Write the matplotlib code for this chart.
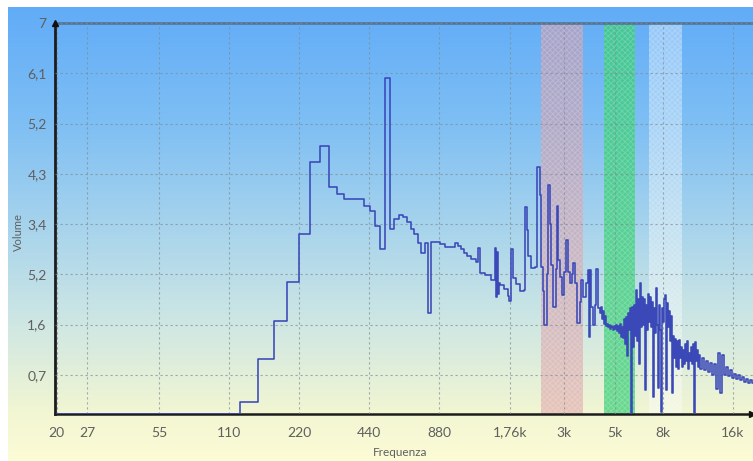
import numpy as np
import matplotlib
matplotlib.use('Agg')
import matplotlib.pyplot as plt
from matplotlib.colors import LinearSegmentedColormap

plt.rcParams['font.family'] = ['Lato', 'DejaVu Sans']
plt.rcParams['hatch.linewidth'] = 0.6

# ---- spectrum data (step edges in Hz, level) ----
low_freq = [20, 122.5, 147, 171.5, 196, 220.5, 245, 269.5, 294, 318.5, 343, 416.5, 441,
            465.5, 490, 514.5, 539, 563.5, 588, 612.5, 637, 661.5, 686, 710.5, 735, 759.5,
            784, 808.5, 882, 931, 1029, 1053.5]
low_level = [0.0, 0.22, 0.98, 1.67, 2.37, 3.23, 4.51, 4.79, 4.07, 3.93, 3.85, 3.73, 3.64,
             3.36, 2.95, 6.01, 3.32, 3.49, 3.56, 3.52, 3.43, 3.32, 3.23, 3.06, 2.89, 3.06,
             1.80, 3.08, 3.04, 2.99, 3.06, 3.00]

mid_freq = [1085, 1118, 1151, 1197, 1257, 1289, 1308, 1374, 1458, 1524, 1539, 1554, 1570,
            1585, 1601, 1657, 1724, 1758, 1793, 1821, 1866, 1941, 2019, 2049, 2100, 2121,
            2184, 2272, 2306, 2375, 2411, 2447, 2483, 2546, 2572, 2622, 2647, 2713, 2781,
            2809, 2850, 2907, 2951, 3010, 3071, 3145, 3208, 3272, 3304, 3370, 3438, 3523,
            3558, 3630, 3758, 3814, 3871, 3907, 3946, 4024, 4104, 4145, 4227]
mid_level = [2.95, 2.88, 2.82, 2.77, 2.72, 2.97, 2.52, 2.48, 2.40, 2.97, 2.10, 2.90, 2.15,
             2.35, 2.31, 2.24, 2.12, 2.02, 2.95, 2.43, 2.33, 2.20, 2.22, 3.70, 3.30, 2.82,
             2.62, 2.64, 4.42, 3.92, 2.64, 2.20, 1.59, 2.50, 4.10, 3.40, 2.67, 1.92, 2.60,
             3.72, 2.75, 2.45, 2.13, 2.55, 3.11, 2.55, 2.35, 2.50, 2.70, 2.35, 1.63, 2.00,
             2.40, 2.10, 2.35, 2.58, 1.38, 2.57, 1.92, 1.60, 1.95, 2.59, 1.89]

high_freq = [4312, 4355, 4398, 4441, 4485, 4530, 4574, 4620, 4666, 4712, 4760, 4807, 4855,
             4903, 4951, 5000, 5049, 5100, 5150, 5201, 5253, 5305, 5358, 5411, 5464, 5518,
             5572, 5628, 5684, 5740, 5797, 5854, 5913, 5971, 6030, 6090, 6149, 6211, 6272,
             6334, 6398, 6461, 6526, 6590, 6655, 6721, 6787, 6855, 6923, 6991, 7060, 7130,
             7201, 7272, 7344, 7417, 7489, 7564, 7639, 7715, 7792, 7869, 7948, 8026, 8105,
             8186, 8266, 8348, 8431, 8514, 8599, 8684, 8771, 8857, 8945, 9033, 9122, 9213,
             9304, 9396, 9490, 9584, 9680, 9775, 9871, 9969, 10067, 10168, 10268, 10370,
             10474, 10578, 10683, 10789, 10895, 11003, 11111, 11221, 11332, 11445, 11560,
             11791, 12025, 12263, 12508, 12757, 13012, 13270, 13533, 13803, 14079, 14361,
             14645, 14935, 15234, 15537, 15848, 16162, 16483, 16812, 17147, 17490, 17836,
             18190, 18553, 18924, 19300]
high_level = [1.80, 1.92, 1.70, 1.85, 1.62, 1.75, 1.58, 1.62, 1.55, 1.60, 1.52, 1.58, 1.55,
              1.50, 1.57, 1.53, 1.60, 1.48, 1.58, 1.45, 1.62, 1.38, 1.55, 1.36, 1.70, 1.25,
              1.74, 1.03, 1.80, 1.50, 1.90, 0.00, 1.92, 1.20, 1.95, 1.40, 2.22, 1.30, 2.05,
              0.90, 2.35, 1.55, 2.10, 1.60, 2.05, 0.43, 1.95, 1.50, 2.15, 1.65, 2.10, 1.55,
              2.01, 0.30, 1.90, 1.45, 2.25, 1.60, 0.47, 1.95, 1.50, 0.04, 1.90, 1.65, 2.05,
              2.13, 0.43, 1.99, 1.55, 1.85, 1.30, 1.75, 0.37, 1.40, 1.00, 1.35, 0.85, 1.30,
              0.80, 1.33, 1.00, 1.20, 0.85, 1.15, 0.90, 1.25, 0.95, 1.30, 0.80, 1.10,
              0.95, 1.20, 0.90, 1.25, 0.02, 1.29, 0.95, 1.15, 0.85, 1.05, 0.80,
              1.00, 0.78, 0.95, 0.75, 0.92, 0.70, 0.90, 0.45, 1.10, 0.37, 1.06,
              0.70, 0.85, 0.68, 0.78, 0.65, 0.72, 0.62, 0.70, 0.60, 0.66, 0.58,
              0.63, 0.56, 0.60, 0.55]
end_freq = 20000

# ---- highlighted bands (Hz) ----
band_lo = [2410, 4488, 6994]
band_hi = [3646, 6090, 9680]
band_color = ['#dc9ca6', '#3ccf78', '#ffffff']
band_alpha = [0.55, 0.75, 0.33]

x_ticks = [20, 27, 55, 110, 220, 440, 880, 1760, 3000, 5000, 8000, 16000]
x_labels = ['20', '27', '55', '110', '220', '440', '880', '1,76k', '3k', '5k', '8k', '16k']
y_ticks = [0.7, 1.6, 2.5, 3.4, 4.3, 5.2, 6.1, 7.0]
y_labels = ['0,7', '1,6', '5,2', '3,4', '4,3', '5,2', '6,1', '7']

W, H = 753, 461
fig = plt.figure(figsize=(W / 100, H / 100), dpi=100)
fig.patch.set_facecolor('white')

# background gradient
bg = fig.add_axes([8 / W, 0, 1 - 8 / W, (H - 7) / H])
bg.set_axis_off()
stops = [(0.0, (97, 172, 248)), (0.249, (125, 190, 244)), (0.491, (168, 212, 236)),
         (0.689, (205, 230, 228)), (0.896, (242, 246, 210)), (1.0, (252, 252, 214))]
cmap = LinearSegmentedColormap.from_list('bg', [(p, tuple(c / 255 for c in col)) for p, col in stops])
bg.imshow(np.linspace(0, 1, 512)[:, None], aspect='auto', cmap=cmap, extent=[0, 1, 0, 1])

ax = fig.add_axes([55 / W, (H - 414) / H, 1 - 55 / W, (414 - 23) / H])
ax.patch.set_alpha(0)
ax.set_xscale('log')
ax.set_xlim(19.7, 19500)
ax.set_ylim(0, 7)

for lo, hi, c, a in zip(band_lo, band_hi, band_color, band_alpha):
    ax.axvspan(lo, hi, color=c, alpha=a, lw=0, zorder=1)
    ax.axvspan(lo, hi, facecolor='none', edgecolor=(1, 1, 1, 0.2), hatch='xxxxxx', lw=0, zorder=1.1)

freqs = low_freq + mid_freq + high_freq + [end_freq]
levels = low_level + mid_level + high_level
levels = levels + [levels[-1]]
ax.step(freqs, levels, where='post', color='#3a48b8', lw=1.15, zorder=3)

ax.set_xticks(x_ticks)
ax.set_xticklabels(x_labels)
ax.set_yticks(y_ticks)
ax.set_yticklabels(y_labels)
ax.xaxis.set_minor_locator(matplotlib.ticker.NullLocator())
ax.tick_params(axis='both', length=0, labelsize=10, labelcolor='#5f5f5f')
ax.tick_params(axis='x', pad=9)
ax.tick_params(axis='y', pad=6)

ax.grid(True, which='major', color='#808b94', linestyle=(0, (2, 2.5)), linewidth=0.8, alpha=0.7, zorder=2)
ax.set_axisbelow(False)

ax.spines['right'].set_visible(False)
ax.spines['left'].set_color('#1c1c1c')
ax.spines['left'].set_linewidth(2)
ax.spines['bottom'].set_color('#1c1c1c')
ax.spines['bottom'].set_linewidth(1.8)
ax.spines['top'].set_color('#52708f')
ax.spines['top'].set_linewidth(1.8)

ax.plot([19.7], [7], marker='^', markersize=4, color='#111111', clip_on=False, zorder=5)
ax.plot([19300], [0], marker='>', markersize=4, color='#111111', clip_on=False, zorder=5)

fig.text(400 / W, 1 - 452 / H, 'Frequenza', ha='center', va='center', fontsize=8.5, color='#606060')
fig.text(18 / W, 1 - 232 / H, 'Volume', ha='center', va='center', rotation=90, fontsize=8, color='#606060')

fig.savefig('out.png', dpi=100, facecolor=fig.get_facecolor())
